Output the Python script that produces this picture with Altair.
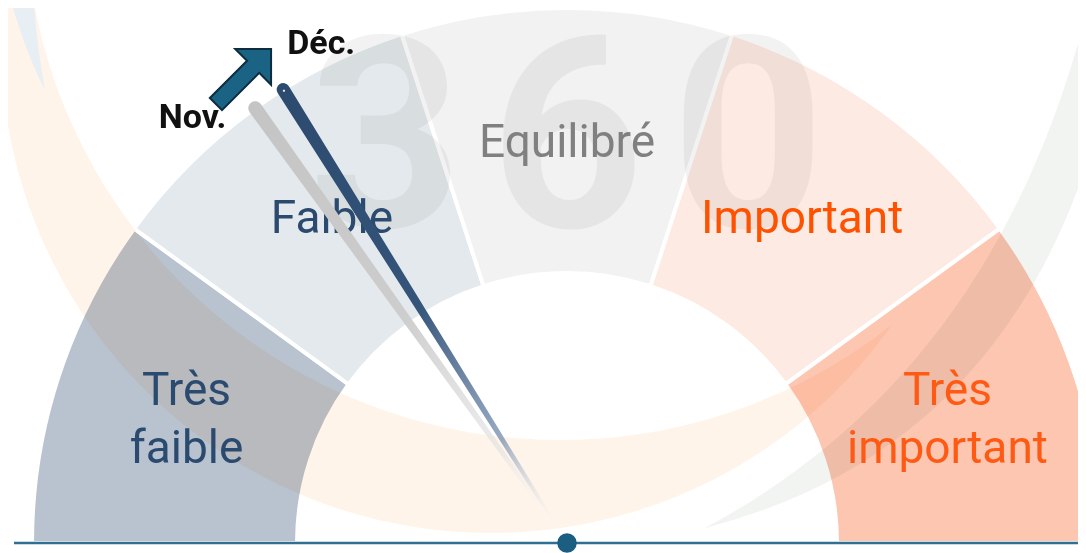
import numpy as np
import pandas as pd
import altair as alt

# ---------------- data ----------------
zone_labels = ["Très\nfaible", "Faible", "Equilibré", "Important", "Très\nimportant"]
zone_start = [0, 20, 40, 60, 80]
zone_end = [20, 40, 60, 80, 100]
zone_fill = ["#b9c3cf", "#e4e9ed", "#f2f2f2", "#fdeae3", "#fcc6b1"]
zone_text = ["#2b4a6f", "#2b4a6f", "#808080", "#ff5200", "#ff5a14"]

months = ["Nov.", "Déc."]
month_values = [30.2, 32.2]

watermark = "3\u200a6\u200a0"

# ---------------- layout constants ----------------
CX, CY = 559, 535          # gauge centre (chart coords)
R_OUT, R_IN = 535, 270
theta_scale = alt.Scale(domain=[0, 100], range=[-np.pi / 2, np.pi / 2])

zones = pd.DataFrame({"label": zone_labels, "start": zone_start, "end": zone_end,
                      "fill": zone_fill, "tcolor": zone_text})
zones["lines"] = zones["label"].str.count("\n") + 1
needles = pd.DataFrame({"month": months, "value": month_values})
needle_pts = needles.merge(pd.DataFrame({"ord": [0, 1]}), how="cross")
one = pd.DataFrame({"k": [0]})


def crescent(c1, r1, c2, r2, n=160):
    c1 = np.array(c1, float)
    c2 = np.array(c2, float)
    d = np.linalg.norm(c2 - c1)
    a = (r1 ** 2 - r2 ** 2 + d ** 2) / (2 * d)
    h = np.sqrt(max(r1 ** 2 - a ** 2, 0))
    phi = np.arctan2(c1[1] - c2[1], c1[0] - c2[0])
    T1 = np.pi - np.arctan2(h, a)
    T2 = np.arctan2(h, d - a)
    pts = [(c1[0] + r1 * np.cos(phi + t), c1[1] + r1 * np.sin(phi + t)) for t in np.linspace(-T1, T1, n)]
    pts += [(c2[0] + r2 * np.cos(phi + t), c2[1] + r2 * np.sin(phi + t)) for t in np.linspace(T2, -T2, n)]
    return "M" + " L".join(f"{x:.1f},{y:.1f}" for x, y in pts) + " Z"


cream_path = crescent((483, 35), 490, (552, -103), 535)
blue_path = "M0,-18 Q16,42 37,82 Q28,32 25,-18 Z"
green_path = "M697,520 Q1002,442 1092,112 L1092,-10 L1082,-10 Q992,362 697,520 Z"
arrow_path = "M-1,-0.22 L0.35,-0.22 L0.35,-0.65 L1,0 L0.35,0.65 L0.35,0.22 L-1,0.22 Z"

pos = dict(x=alt.value(CX), y=alt.value(CY))

# gauge segments
seg = alt.Chart(zones).mark_arc(radius=R_OUT, radius2=R_IN, stroke="white", strokeWidth=4).encode(
    theta=alt.Theta("start:Q", scale=theta_scale),
    theta2="end:Q",
    fill=alt.Fill("fill:N", scale=None),
    **pos,
)


def deco(path, color, multiply=True):
    extra = {"blend": "multiply"} if multiply else {}
    return alt.Chart(one).mark_point(shape=path, size=4, filled=True, fill=color, strokeWidth=0,
                                     opacity=1, **extra).encode(x=alt.value(0), y=alt.value(0))


cream = deco(cream_path, "#fff4ea")
blue = deco(blue_path, "#e8eff4", multiply=False)
green = deco(green_path, "#f2f4f1")

wm = alt.Chart(one).mark_text(text=watermark, font="Roboto", fontWeight="bold", fontSize=268,
                              fill="#000000", fillOpacity=0.05, theta=0, radius=316,
                              align="center", baseline="alphabetic").encode(**pos)


def zone_text_layer(nlines, dy):
    return alt.Chart(zones).transform_filter(alt.datum.lines == nlines).transform_calculate(
        mid="(datum.start + datum.end) / 2"
    ).mark_text(
        radius=400, font="Roboto", fontSize=46, lineBreak="\n", lineHeight=58,
        baseline="middle", align="center", dy=dy,
    ).encode(
        theta=alt.Theta("mid:Q", scale=theta_scale, stack=False),
        text="label:N",
        color=alt.Color("tcolor:N", scale=None),
        **pos,
    )


labels1 = zone_text_layer(1, 0)
labels2 = zone_text_layer(2, -28)

gray_grad = alt.LinearGradient(gradient="linear", x1=0, y1=0, x2=1, y2=1, stops=[
    alt.GradientStop(color="#c4c4c4", offset=0),
    alt.GradientStop(color="#cdcdcd", offset=0.5),
    alt.GradientStop(color="rgba(225,225,225,0.6)", offset=0.82),
    alt.GradientStop(color="rgba(255,255,255,0)", offset=1),
])
dark_grad = alt.LinearGradient(gradient="linear", x1=0, y1=0, x2=1, y2=1, stops=[
    alt.GradientStop(color="#2c4a6e", offset=0),
    alt.GradientStop(color="#34547a", offset=0.5),
    alt.GradientStop(color="rgba(110,135,170,0.7)", offset=0.8),
    alt.GradientStop(color="rgba(255,255,255,0)", offset=1),
])


def needle(month, tip_w, grad):
    return alt.Chart(needle_pts).transform_filter(alt.datum.month == month).transform_calculate(
        ang="-PI/2 + datum.value / 100 * PI",
        r="datum.ord == 1 ? 535 : 18",
        sz=f"datum.ord == 1 ? {tip_w} : 3",
    ).transform_calculate(
        px=f"{CX} + datum.r * sin(datum.ang)",
        py=f"{CY} - datum.r * cos(datum.ang)",
    ).mark_trail(fill=grad, color=grad, opacity=1).encode(
        x=alt.X("px:Q", scale=None, axis=None),
        y=alt.Y("py:Q", scale=None, axis=None),
        size=alt.Size("sz:Q", scale=None, legend=None),
        order="ord:Q",
    )


n_nov = needle("Nov.", 14, gray_grad)
n_dec = needle("Déc.", 13, dark_grad)

tipdot = alt.Chart(needles).transform_filter(alt.datum.month == "Déc.").mark_text(
    text="●", fontSize=5, color="#e8eef5", radius=534, baseline="middle", align="center"
).encode(theta=alt.Theta("value:Q", scale=theta_scale, stack=False), **pos)


def month_label(month, align, dx, dy):
    return alt.Chart(needles).transform_filter(alt.datum.month == month).mark_text(
        font="Roboto", fontWeight="bold", fontSize=34, color="#111111", radius=535,
        align=align, baseline="alphabetic", dx=dx, dy=dy,
    ).encode(theta=alt.Theta("value:Q", scale=theta_scale, stack=False), text="month:N", **pos)


lab_nov = month_label("Nov.", "right", -29, 20)
lab_dec = month_label("Déc.", "left", 4, -35)

arrow = alt.Chart(one).mark_point(shape=arrow_path, size=6084, angle=315, filled=True,
                                  fill="#1b6385", stroke="#0d2c3d", strokeWidth=2, opacity=1
                                  ).encode(x=alt.value(235.5), y=alt.value(68.5))

base = alt.Chart(one).mark_rule(color="#2f6f91", strokeWidth=2.5).encode(
    x=alt.value(6), x2=alt.value(1070), y=alt.value(CY))
dot = alt.Chart(one).mark_point(shape="circle", size=380, filled=True, fill="#1b5e82",
                                opacity=1, strokeWidth=0).encode(**pos)

chart = alt.layer(seg, cream, blue, green, wm, labels1, labels2, n_nov, n_dec, tipdot,
                  arrow, lab_nov, lab_dec, base, dot).properties(
    width=1070, height=545, padding=0, autosize=alt.AutoSizeParams(type="none"),
    background="white",
).configure_view(strokeWidth=0)

chart.save("out.html", embed_options={"renderer": "svg", "actions": False})
